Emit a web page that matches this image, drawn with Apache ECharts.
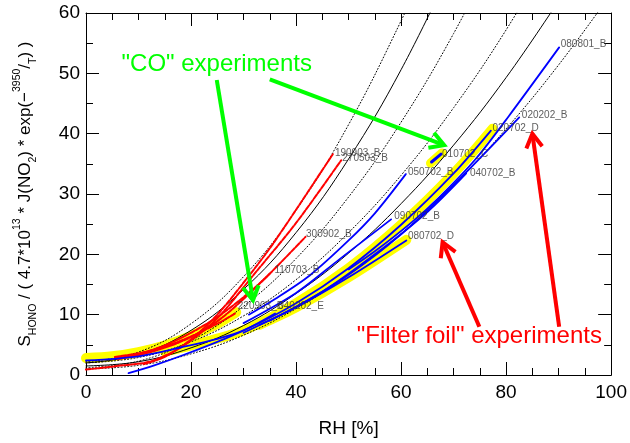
<!DOCTYPE html>
<html><head><meta charset="utf-8">
<script src="https://cdn.jsdelivr.net/npm/echarts@6/dist/echarts.min.js"></script>
<style>html,body{margin:0;padding:0;background:#fff}#c{width:630px;height:443px}</style>
</head><body><div id="c"></div>
<script>
// axis ranges
const xRange = [0, 100, 20];
const yRange = [0, 60, 10];

// fitted curves ("CO" group and "Filter foil" group) with +/- bands
const coFit    = [[0,2.0],[10,3.4],[20,7.4],[30,14.2],[40,23.6],[50,35.8],[60,50.6],[70,68.2]];
const coFitHi  = [[0,2.2],[10,3.8],[20,8.5],[30,16.3],[40,27.3],[50,41.5],[60,58.7],[65,68.5]];
const coFitLo  = [[0,1.2],[10,2.3],[20,5.7],[30,11.4],[40,19.3],[50,29.5],[60,41.9],[70,56.6],[80,73.5]];
const foilFit   = [[0,1.5],[10,2.2],[20,4.5],[30,8.2],[40,13.5],[50,20.2],[60,28.4],[70,38.1],[80,49.3],[90,62.0]];
const foilFitHi = [[0,2.0],[10,2.9],[20,5.5],[30,9.8],[40,15.8],[50,23.6],[60,33.1],[70,44.3],[80,57.2],[90,71.9]];
const foilFitLo = [[0,1.0],[10,1.6],[20,3.5],[30,6.6],[40,11.0],[50,16.6],[60,23.4],[70,31.5],[80,40.8],[90,51.4],[100,63.2]];

// yellow highlighted experiments
const y220903B = [[0,2.8],[5,3.1],[10,3.8],[15,4.9],[20,6.5],[25,8.5],[28.6,10.4]];
const y020702D = [[15,3.9],[20,4.9],[30,7.4],[40,11.9],[50,17.7],[60,24.9],[70,33.4],[77.4,40.8]];
const y080702D = [[33,8.3],[40,11.2],[50,16.2],[61,22.4]];
const y010702C = [[65.6,35.1],[67.8,36.8]];

// "CO" experiments (red)
const r190903B = [[11,1.8],[15,3.0],[20,5.9],[25,10.0],[30,15.3],[35,21.0],[40,27.4],[47,36.6]];
const r270503B = [[0,0.9],[6,1.5],[12.5,2.3],[18.8,5.0],[25,9.4],[32.1,16.8],[40,25.2],[48.6,35.6]];
const r300902B = [[6,2.6],[10,3.4],[15,4.9],[20,7.0],[25,9.6],[30,12.9],[34.3,16.2],[41.8,22.9]];
const r110703B = [[5.5,2.8],[10,3.3],[15.6,4.7],[20,6.3],[25,8.9],[30,12.6],[35,16.8]];
const r220903B = [[5.5,3.0],[10,3.6],[15.6,4.9],[20,6.4],[25,8.5],[28.4,10.2]];

// "Filter foil" experiments (blue)
const b020702D = [[0,2.4],[10,3.1],[18.2,4.6],[25,6.0],[30,7.4],[40,11.9],[50,17.7],[60,24.9],[70,33.4],[77.1,40.5]];
const b080702D = [[33,8.3],[40,11.2],[50,16.2],[61,22.3]];
const b050702B = [[31,10.0],[36,12.6],[42.6,16.5],[50,22.3],[55,26.8],[60.9,33.3]];
const b090702B = [[30,8.6],[40,13.6],[48.3,19.2],[58.1,25.8]];
const b040702B = [[35,9.0],[45,13.8],[55,20.0],[65,27.0],[72.4,33.4]];
const b020202B = [[30,7.0],[40,11.3],[50,16.6],[60,23.3],[70,31.5],[82.5,42.7]];
const b080801B = [[50,17.5],[55,20.5],[62,25.3],[67.3,29.5],[74.2,35.8],[80.5,42.9],[90.1,54.3]];
const b010702C = [[65.8,35.3],[67.6,36.6]];
const b040202E = [[8.1,0.3],[13,1.6],[18.8,3.4],[26.4,6.0],[31,7.8],[36,10.2]];

// experiment labels [RH, S, text]
const expLabels = [
  [47.4,36.8,'190903_B'],[48.8,35.9,'270503_B'],[41.9,23.3,'300902_B'],[35.9,17.3,'110703_B'],
  [28.9,11.4,'220903_B'],[36.6,11.4,'040202_E'],[61.3,33.6,'050702_B'],[67.8,36.6,'010702_C'],
  [73.1,33.4,'040702_B'],[77.4,40.9,'020702_D'],[83.0,43.0,'020202_B'],[90.4,54.8,'080801_B'],
  [58.7,26.3,'090702_B'],[61.3,23.0,'080702_D']
];

// annotations
const greenArrows = [[[24.9,48.9],[31.8,12.4]], [[35.0,49.0],[68.2,38.1]]];
const redArrows   = [[[74.9,8.0],[67.9,22.0]], [[90.1,8.0],[85.0,40.0]]];
const noteCO   = [24.9, 51.5, '"CO" experiments'];
const noteFoil = [74.9, 6.4, '"Filter foil" experiments'];

const FONT = 'Liberation Sans, Arial, Helvetica, sans-serif';
const series = [];
function addLine(data, color, width, type, smooth) {
  series.push({type:'line', data:data, symbol:'none', smooth: smooth, silent:true,
    lineStyle:{color:color, width:width, type:type, cap:'round', join:'round'}, z:2});
}
[y220903B, y080702D, y020702D].forEach(d => addLine(d, '#ffff00', 10, 'solid', 0.3));
addLine(y010702C, '#ffff00', 9, 'solid', false);
[coFit, foilFit].forEach(d => addLine(d, '#000', 1, 'solid', 0.4));
[coFitHi, coFitLo, foilFitHi, foilFitLo].forEach(d => addLine(d, '#000', 1, [1,2.2], 0.4));
[r190903B, r270503B, r300902B, r110703B, r220903B].forEach(d => addLine(d, '#ff0000', 2, [5,1.5], 0.3));
[b020702D, b080702D, b050702B, b090702B, b040702B, b020202B, b080801B, b040202E].forEach(d => addLine(d, '#0000ff', 1.8, 'solid', 0.3));
addLine(b010702C, '#0000ff', 3, 'solid', false);
series.push({type:'scatter', data: expLabels, symbolSize:0, silent:true, z:5,
  label:{show:true, position:'right', distance:0, formatter: p => p.data[2],
    fontFamily:FONT, fontSize:10, color:'#333'}});

const axisCommon = {
  axisLine:{show:true, onZero:false, lineStyle:{color:'#000', width:1}},
  axisTick:{show:true, inside:true, length:13, lineStyle:{color:'#000', width:1}},
  minorTick:{show:true, length:7, lineStyle:{color:'#000', width:1}},
  splitLine:{show:false}, minorSplitLine:{show:false}
};
const xBase = Object.assign({type:'value', min:xRange[0], max:xRange[1], interval:xRange[2]}, axisCommon);
const yBase = Object.assign({type:'value', min:yRange[0], max:yRange[1], interval:yRange[2]}, axisCommon);

const chart = echarts.init(document.getElementById('c'), null, {renderer:'canvas'});
chart.setOption({
  animation:false,
  backgroundColor:'#fff',
  grid:{left:86, right:17, top:13, bottom:64, containLabel:false},
  xAxis:[
    Object.assign({}, xBase, {position:'bottom', minorTick:Object.assign({}, axisCommon.minorTick, {splitNumber:4}),
      axisLabel:{show:true, margin:8, fontFamily:FONT, fontSize:19, color:'#000'},
      name:'RH [%]', nameLocation:'middle', nameGap:44, nameTextStyle:{fontFamily:FONT, fontSize:19, color:'#000'}}),
    Object.assign({}, xBase, {position:'top', minorTick:Object.assign({}, axisCommon.minorTick, {splitNumber:4}),
      axisLabel:{show:false}})
  ],
  yAxis:[
    Object.assign({}, yBase, {position:'left', minorTick:Object.assign({}, axisCommon.minorTick, {splitNumber:2}),
      axisLabel:{show:true, margin:6, fontFamily:FONT, fontSize:19, color:'#000'},
      name:'{n|S}{sub|HONO}{n| / ( 4.7*10}{sup|13}{n| * J(NO}{sub|2}{n|) * exp(\u2212}{sup|3950}{n|/}{sub|T}{n|) )}',
      nameLocation:'middle', nameRotate:90, nameGap:47,
      nameTextStyle:{fontFamily:FONT, fontSize:17, color:'#000', rich:{
        n:{fontFamily:FONT, fontSize:17, lineHeight:27, color:'#000'},
        sub:{fontFamily:FONT, fontSize:10.5, lineHeight:12, verticalAlign:'bottom', color:'#000'},
        sup:{fontFamily:FONT, fontSize:10.5, lineHeight:12, verticalAlign:'top', color:'#000'}
      }}}),
    Object.assign({}, yBase, {position:'right', minorTick:Object.assign({}, axisCommon.minorTick, {splitNumber:2}),
      axisLabel:{show:false}})
  ],
  series: series
});

function px(p){ return chart.convertToPixel({xAxisIndex:0, yAxisIndex:0}, p); }
function arrow(a, color){
  const p0 = px(a[0]), p1 = px(a[1]);
  const dx = p1[0]-p0[0], dy = p1[1]-p0[1], L = Math.hypot(dx,dy);
  const ux = dx/L, uy = dy/L, h = 16, ang = Math.PI/6;
  const c = Math.cos(ang), s = Math.sin(ang);
  const l1 = [p1[0] - h*(ux*c - uy*s), p1[1] - h*(uy*c + ux*s)];
  const l2 = [p1[0] - h*(ux*c + uy*s), p1[1] - h*(uy*c - ux*s)];
  const st = {stroke:color, lineWidth:4, fill:null, lineCap:'butt', lineJoin:'miter'};
  return [
    {type:'polyline', shape:{points:[p0,p1]}, style:st, z:10, silent:true},
    {type:'polyline', shape:{points:[l1,p1,l2]}, style:st, z:10, silent:true}
  ];
}
const g = [];
greenArrows.forEach(a => g.push(...arrow(a, '#00ff00')));
redArrows.forEach(a => g.push(...arrow(a, '#ff0000')));
const pc = px([noteCO[0], noteCO[1]]), pf = px([noteFoil[0], noteFoil[1]]);
g.push({type:'text', x:pc[0], y:pc[1], z:11, silent:true, style:{text:noteCO[2], fill:'#00ff00', font:'24px '+FONT, align:'center', verticalAlign:'middle'}});
g.push({type:'text', x:pf[0], y:pf[1], z:11, silent:true, style:{text:noteFoil[2], fill:'#ff0000', font:'24px '+FONT, align:'center', verticalAlign:'middle'}});
chart.setOption({graphic: g});
</script></body></html>
